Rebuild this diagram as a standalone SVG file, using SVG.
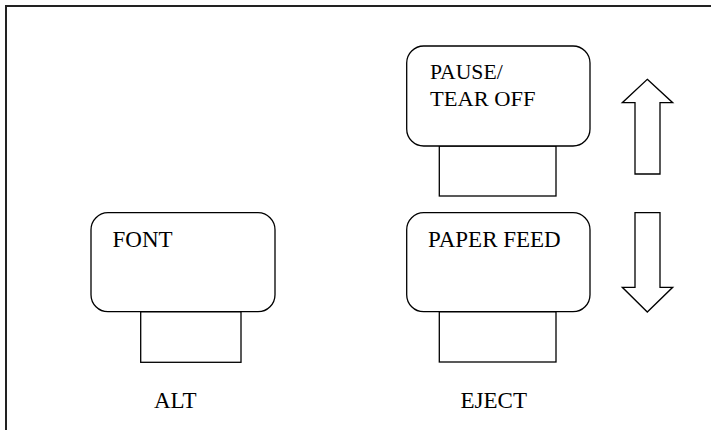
<svg xmlns="http://www.w3.org/2000/svg" width="711" height="430" viewBox="0 0 711 430">
<style>
.k{fill:#fff;stroke:#000;stroke-width:1.3}
.t{font-family:"Liberation Serif","Times New Roman",serif;font-size:23px;fill:#000}
.tp{font-family:"Liberation Serif","Times New Roman",serif;font-size:21px;fill:#000}
</style>
<rect width="711" height="430" fill="#fff"/>
<path d="M6,440 V6 H720" fill="none" stroke="#222" stroke-width="2"/>
<g id="pause">
<rect class="k" x="439.3" y="146" width="116.7" height="50"/>
<rect class="k" x="406.7" y="46" width="183.3" height="100" rx="17" ry="17"/>
<text class="tp" x="430" y="79.3" textLength="72.7" lengthAdjust="spacingAndGlyphs">PAUSE/</text>
<text class="tp" x="430" y="105.7" textLength="105.5" lengthAdjust="spacingAndGlyphs">TEAR OFF</text>
</g>
<g id="paperfeed">
<rect class="k" x="439.3" y="311.7" width="116.7" height="50.3"/>
<rect class="k" x="406.7" y="212.7" width="183.3" height="99" rx="17" ry="17"/>
<text class="t" x="428" y="247">PAPER FEED</text>
</g>
<g id="font">
<rect class="k" x="140.7" y="311.7" width="100.3" height="50.6"/>
<rect class="k" x="91" y="212.7" width="184" height="99" rx="17" ry="17"/>
<text class="t" x="112.5" y="247.3">FONT</text>
</g>
<g id="alt-label"><text class="t" x="154" y="408.3">ALT</text></g>
<g id="eject-label"><text class="t" x="460.5" y="408.3">EJECT</text></g>
<g id="connectors">
<polygon class="k" points="647.3,79.3 672.7,102.7 660,102.7 660,174 635,174 635,102.7 622.3,102.7"/>
<polygon class="k" points="635,212.7 660,212.7 660,287.3 672.7,287.3 647.3,312 622.3,287.3 635,287.3"/>
</g>
</svg>
